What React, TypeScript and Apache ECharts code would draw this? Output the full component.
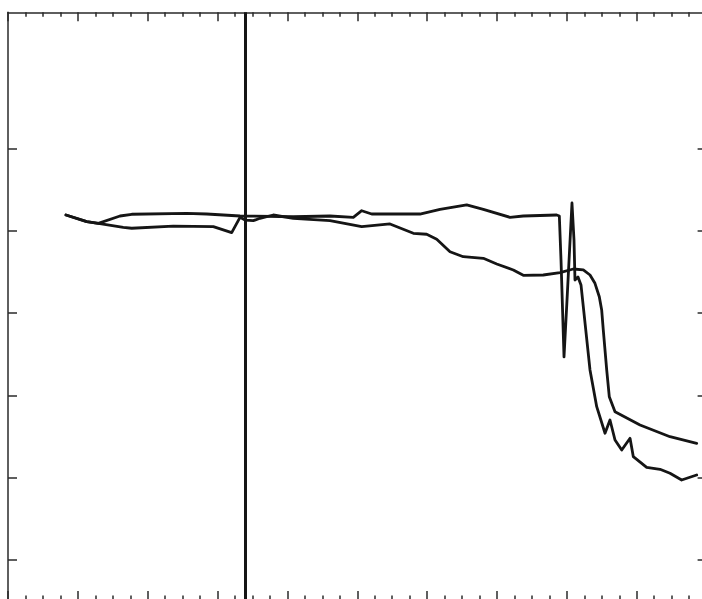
import React, { useEffect, useRef } from "react";
import * as echarts from "echarts";

// x positions (axis units) and y values for the two traces
const upperX = [0.83, 1.127, 1.293, 1.603, 1.771, 2.558, 2.844, 3.321, 4.084, 4.609, 4.943, 5.063, 5.206, 5.897, 6.184, 6.566, 6.804, 7.186, 7.376, 7.854, 7.892, 7.916, 7.959, 8.002, 8.073, 8.102, 8.116, 8.159, 8.202, 8.331, 8.427, 8.546, 8.617, 8.689, 8.785, 8.904, 8.951, 9.142, 9.333, 9.476, 9.643, 9.858];
const upperY = [4.192, 4.111, 4.091, 4.18, 4.201, 4.213, 4.204, 4.18, 4.171, 4.18, 4.164, 4.244, 4.204, 4.204, 4.261, 4.314, 4.261, 4.164, 4.18, 4.192, 4.18, 3.645, 2.467, 3.159, 4.338, 3.888, 3.402, 3.439, 3.342, 2.309, 1.863, 1.54, 1.701, 1.458, 1.337, 1.479, 1.255, 1.126, 1.102, 1.054, 0.972, 1.033];

const lowerX = [0.83, 1.127, 1.293, 1.65, 1.771, 2.366, 2.939, 3.202, 3.321, 3.393, 3.511, 3.607, 3.798, 4.084, 4.609, 5.063, 5.468, 5.802, 5.993, 6.137, 6.327, 6.517, 6.804, 6.996, 7.233, 7.376, 7.662, 7.902, 8.092, 8.235, 8.331, 8.402, 8.464, 8.498, 8.521, 8.57, 8.607, 8.689, 9.047, 9.476, 9.858];
const lowerY = [4.192, 4.111, 4.091, 4.043, 4.031, 4.058, 4.05, 3.977, 4.164, 4.131, 4.123, 4.152, 4.192, 4.152, 4.123, 4.05, 4.083, 3.97, 3.958, 3.897, 3.746, 3.685, 3.666, 3.597, 3.524, 3.459, 3.463, 3.491, 3.536, 3.524, 3.463, 3.362, 3.199, 3.038, 2.795, 2.309, 1.984, 1.802, 1.64, 1.498, 1.418];

const yTicks = [0, 1, 2, 3, 4, 5];
const markerX = 3.393;

const X_MIN = 0;
const X_MAX = 10;
const Y_MIN = -0.486;
const Y_MAX = 6.655;

const axisColor = "#2a2a2a";

function xAxisCfg(position: "top" | "bottom") {
  return {
    type: "value" as const,
    position,
    min: X_MIN,
    max: X_MAX,
    interval: 1,
    axisLine: { show: true, onZero: false, lineStyle: { color: axisColor, width: 1.5 } },
    axisTick: { show: true, inside: true, length: 9, lineStyle: { color: axisColor, width: 1.5 } },
    minorTick: { show: true, splitNumber: 4, length: 4.5, lineStyle: { color: axisColor, width: 1.5 } },
    axisLabel: { show: false },
    splitLine: { show: false },
    minorSplitLine: { show: false },
  };
}

function yAxisCfg(position: "left" | "right") {
  return {
    type: "value" as const,
    position,
    min: Y_MIN,
    max: Y_MAX,
    axisLine: { show: true, onZero: false, lineStyle: { color: axisColor, width: 1.5 } },
    axisTick: { show: true, inside: true, length: 9, customValues: yTicks, lineStyle: { color: axisColor, width: 1.5 } },
    axisLabel: { show: false },
    splitLine: { show: false },
  };
}

export default function App() {
  const ref = useRef<HTMLDivElement>(null);
  useEffect(() => {
    document.body.style.margin = "0";
    if (!ref.current) return;
    const chart = echarts.init(ref.current, undefined, { renderer: "svg" });
    const line = { color: "#151515", width: 2.8, join: "round" as const, cap: "round" as const };
    chart.setOption({
      animation: false,
      backgroundColor: "#ffffff",
      grid: { left: 8, top: 12.3, width: 698.6, height: 587.7, containLabel: false },
      xAxis: [xAxisCfg("bottom"), xAxisCfg("top")],
      yAxis: [yAxisCfg("left"), yAxisCfg("right")],
      series: [
        {
          type: "line",
          data: upperX.map((x, i) => [x, upperY[i]]),
          showSymbol: false,
          symbol: "none",
          lineStyle: line,
          itemStyle: { color: "#151515" },
          markLine: {
            silent: true,
            symbol: "none",
            label: { show: false },
            lineStyle: { color: "#151515", width: 3, type: "solid" },
            data: [{ xAxis: markerX }],
          },
        },
        {
          type: "line",
          data: lowerX.map((x, i) => [x, lowerY[i]]),
          showSymbol: false,
          symbol: "none",
          lineStyle: line,
          itemStyle: { color: "#151515" },
        },
      ],
    });
    return () => chart.dispose();
  }, []);
  return (
    <div style={{ width: 702, height: 599, overflow: "hidden", position: "relative" }}>
      <div ref={ref} style={{ width: 712, height: 610 }} />
    </div>
  );
}
